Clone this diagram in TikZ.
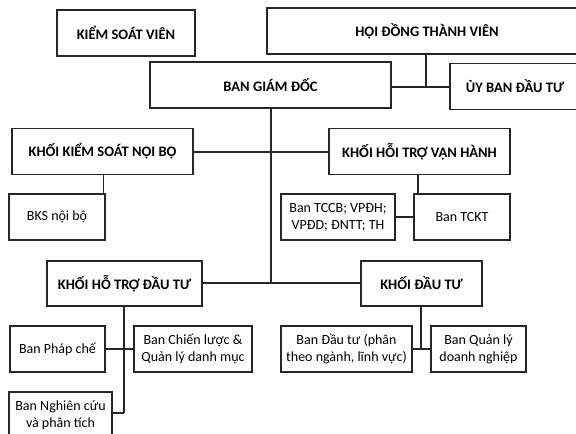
\documentclass[tikz,border=0pt]{standalone}
\usepackage{fontspec}
\setmainfont{Carlito}
\usepackage{tikz}
\usetikzlibrary{positioning}
\definecolor{linegray}{HTML}{262626}
\tikzset{
  khoi/.style={
    rectangle, draw=linegray, line width=1.1pt, fill=white,
    minimum height=46pt, inner sep=2pt, align=center,
    font=\fontsize{14.5}{17}\selectfont\bfseries
  },
  ban/.style={
    rectangle, draw=linegray, line width=1.1pt, fill=white,
    minimum height=46pt, inner sep=1pt, align=center,
    font=\fontsize{14}{17}\selectfont
  },
  noi/.style={line width=1.1pt, color=linegray},
}
\begin{document}
\begin{tikzpicture}[x=1pt, y=-1pt]
  \clip (0,0) rectangle (576,434);
  \fill[white] (0,0) rectangle (576,434);

  % --- Cap tren ---
  \node[khoi, minimum width=138pt] (ksv) at (126,33) {KIỂM SOÁT VIÊN};
  \node[khoi, minimum width=320pt] (hdtv) at (427,31) {HỘI ĐỒNG THÀNH VIÊN};
  \node[khoi, minimum width=241pt] (bgd) at (270.5,85) {BAN GIÁM ĐỐC};
  \node[khoi, minimum width=130pt] (ubdt) at (515,86.5) {ỦY BAN ĐẦU TƯ};

  % --- Cac khoi ---
  \node[khoi, minimum width=181pt] (kksnb) at (102.5,151.5) {KHỐI KIỂM SOÁT NỘI BỘ};
  \node[khoi, minimum width=181pt] (khtvh) at (419.5,151.5) {KHỐI HỖI TRỢ VẬN HÀNH};
  \node[khoi, minimum width=155pt, minimum height=45pt] (khtdt) at (124.5,283.5) {KHỐI HỖ TRỢ ĐẦU TƯ};
  \node[khoi, minimum width=121pt, minimum height=45pt] (kdt) at (421.5,283.5) {KHỐI ĐẦU TƯ};

  % --- Cac ban ---
  \node[ban, minimum width=96pt] (bks) at (57,217) {BKS nội bộ};
  \node[ban, minimum width=114pt] (tccb) at (338,217) {Ban TCCB; VPĐH;\\VPĐD; ĐNTT; TH};
  \node[ban, minimum width=96pt] (tckt) at (462,217) {Ban TCKT};
  \node[ban, minimum width=95pt] (phapche) at (57.5,349) {Ban Pháp chế};
  \node[ban, minimum width=118pt] (chienluoc) at (193,349) {Ban Chiến lược \&\\Quản lý danh mục};
  \node[ban, minimum width=103pt] (nghiencuu) at (60.5,415) {Ban Nghiên cứu\\và phân tích};
  \node[ban, minimum width=131pt] (dautu) at (346.5,349) {Ban Đầu tư (phân\\theo ngành, lĩnh vực)};
  \node[ban, minimum width=95pt] (qldn) at (478.5,349) {Ban Quản lý\\doanh nghiệp};

  % --- Diem noi ---
  \coordinate (jhd) at (426,87);
  \coordinate (jtop) at (271,152);
  \coordinate (jbot) at (271,283);
  \coordinate (jks) at (103.5,0);
  \coordinate (jvh) at (418,217);
  \coordinate (jht) at (124,349);
  \coordinate (jnc) at (124,413);
  \coordinate (jdt) at (421,349);

  % --- Duong noi ---
  \draw[noi] (hdtv.south -| jhd) -- (jhd);
  \draw[noi] (bgd.east |- jhd) -- (ubdt.west |- jhd);
  \draw[noi] (bgd.south -| jtop) -- (jbot);
  \draw[noi] (kksnb.east |- jtop) -- (khtvh.west |- jtop);
  \draw[noi] (khtdt.east |- jbot) -- (kdt.west |- jbot);
  \draw[noi] (kksnb.south -| jks) -- (bks.north -| jks);
  \draw[noi] (khtvh.south -| jvh) -- (tckt.north -| jvh);
  \draw[noi] (tccb.east) -- (tckt.west);
  \draw[noi] (khtdt.south -| jht) -- (jnc);
  \draw[noi] (phapche.east) -- (chienluoc.west);
  \draw[noi] (nghiencuu.east |- jnc) -- (jnc);
  \draw[noi] (kdt.south -| jdt) -- (jdt);
  \draw[noi] (dautu.east) -- (qldn.west);
\end{tikzpicture}
\end{document}
